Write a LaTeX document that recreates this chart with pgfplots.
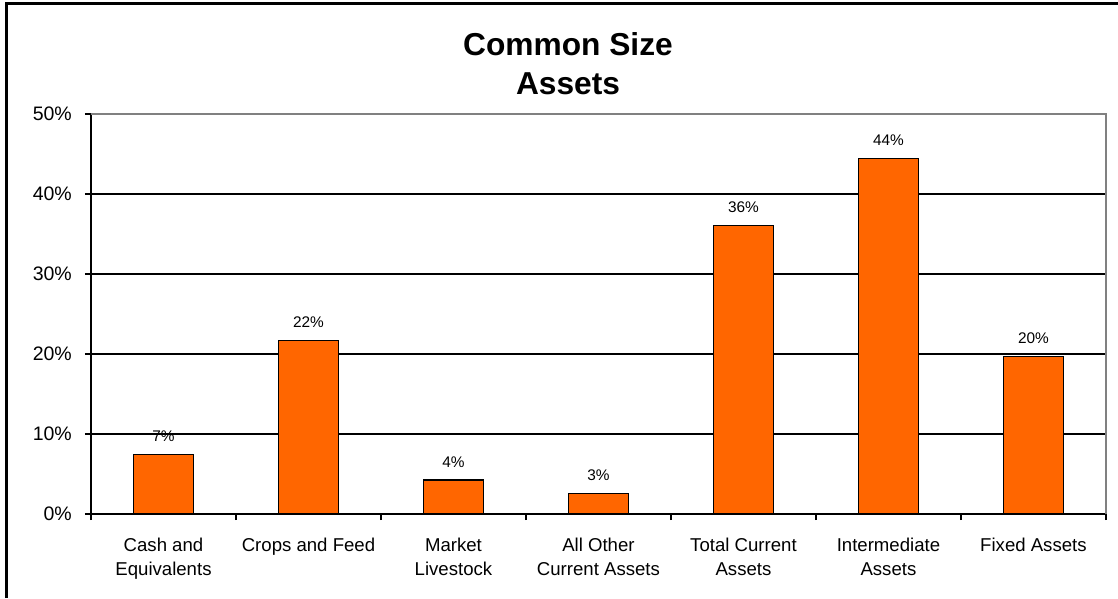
\documentclass[border=0pt]{standalone}
\usepackage{fontspec}
\setmainfont{Liberation Sans}
\usepackage{pgfplots}
\pgfplotsset{compat=1.18}
\definecolor{barorange}{HTML}{FF6600}
\definecolor{bordergray}{HTML}{808080}
\begin{document}
\begin{tikzpicture}[x=1pt,y=1pt]
\begin{axis}[
  name=ax,
  width=1015pt, height=400pt, scale only axis,
  xmin=-0.5, xmax=6.5, ymin=0, ymax=50,
  axis x line*=bottom, axis y line*=left,
  axis line style={-, black, line width=2pt},
  ytick={0,10,...,50},
  yticklabel={\pgfmathprintnumber{\tick}\%},
  /pgf/number format/assume math mode=true,
  xtick={0,...,6},
  xticklabels={{Cash and\\Equivalents},{Crops and Feed},{Market\\Livestock},{All Other\\Current Assets},{Total Current\\Assets},{Intermediate\\Assets},{Fixed Assets}},
  minor xtick={-0.5,0.5,...,6.5},
  major x tick style={draw=none},
  tick align=outside,
  major tick length=6pt, minor tick length=6pt,
  tick style={black, line width=2pt},
  ymajorgrids, major grid style={black, line width=1.1pt},
  yticklabel style={font=\fontsize{19.5}{22}\selectfont, inner sep=0pt, anchor=east, xshift=-13pt},
  xticklabel style={font=\fontsize{18.6}{24}\selectfont, align=center, anchor=north, inner sep=0pt, yshift=-18pt},
  ybar, bar width=60pt,
  nodes near coords={\pgfmathprintnumber[fixed,precision=0]{\pgfplotspointmeta}\%},
  every node near coord/.append style={font=\fontsize{15.4}{18}\selectfont, anchor=base, inner sep=0pt, yshift=13pt},
  after end axis/.code={\draw[bordergray, line width=1.5pt] (rel axis cs:0,1) -- (rel axis cs:1,1) -- (rel axis cs:1,0);},
  clip=false,
]
\addplot[fill=barorange, draw=black, line width=1.5pt] coordinates {(0,7.45) (1,21.7) (2,4.25) (3,2.55) (4,36.05) (5,44.45) (6,19.7)};
\end{axis}
\begin{scope}[shift={(ax.south west)}]
\begin{scope}[shift={(-91,-84)}]
\draw[line width=3pt] (7,0) -- (7,594) -- (1118,594);
\node[font=\bfseries\fontsize{31.7}{39}\selectfont, anchor=base] at (568,542) {Common Size};
\node[font=\bfseries\fontsize{31.7}{39}\selectfont, anchor=base] at (568,503) {Assets};
\pgfresetboundingbox
\useasboundingbox (0,0) rectangle (1118,598);
\end{scope}
\end{scope}
\end{tikzpicture}
\end{document}
